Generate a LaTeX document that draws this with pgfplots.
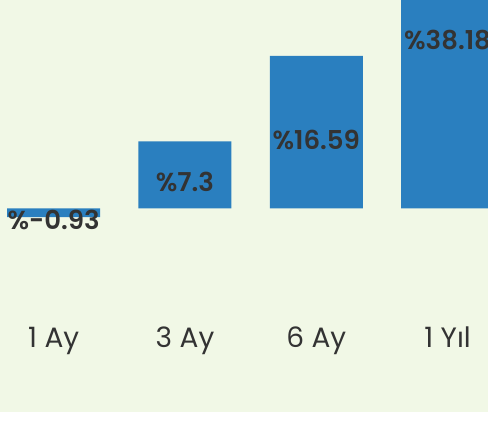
\documentclass[border=0pt]{standalone}
\usepackage{fontspec}
\setmainfont{Poppins}[BoldFont={Poppins SemiBold}]
\usepackage{pgfplots}
\pgfplotsset{compat=1.18}
\definecolor{bg}{HTML}{F1F8E6}
\definecolor{bar}{HTML}{2A7FBF}
\definecolor{txt}{HTML}{333333}
\begin{document}
\begin{tikzpicture}[x=1pt,y=1pt]
\useasboundingbox (0,0) rectangle (488,441);
\fill[white] (0,0) rectangle (488,441);
\fill[bg] (0,29) rectangle (488,441);
\begin{axis}[
  at={(0,0)}, anchor=south west,
  scale only axis, width=488pt, height=441pt,
  xmin=-0.409, xmax=3.308, ymin=-25.27, ymax=22.66,
  axis line style={draw=none}, major tick length=0pt,
  xtick={0,1,2,3}, xticklabels={1 Ay,3 Ay,6 Ay,1 Yıl},
  ytick=\empty,
  xticklabel style={anchor=base, yshift=93pt, font=\fontsize{28}{30}\selectfont, text=txt},
  clip=false,
]
\addplot[ybar, bar width=93pt, fill=bar, draw=none,
  point meta=explicit symbolic,
  visualization depends on={y \as \rawy},
  nodes near coords,
  every node near coord/.append style={anchor=base, text=txt,
     font=\bfseries\fontsize{26}{30}\selectfont,
     shift={(axis direction cs:0,{-\rawy/2})}, yshift=-17pt},
] coordinates {
  (0,-0.93) [\%-0.93]
  (1,7.3) [\%7.3]
  (2,16.59) [\%16.59]
  (3,38.18) [\%38.18]
};
\end{axis}
\end{tikzpicture}
\end{document}
